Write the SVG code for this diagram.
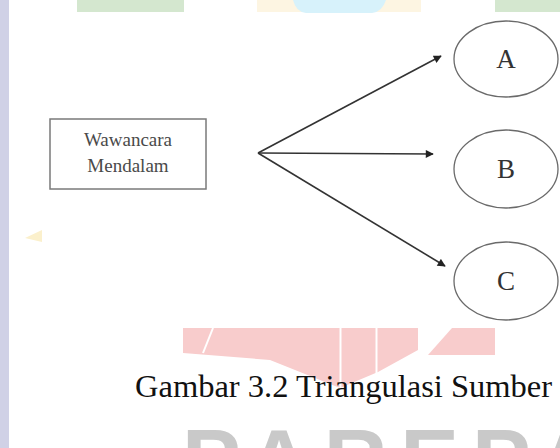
<svg xmlns="http://www.w3.org/2000/svg" width="560" height="448" viewBox="0 0 560 448">
  <defs>
    <marker id="arrow" viewBox="0 0 10 10" refX="9" refY="5" markerWidth="10" markerHeight="8" markerUnits="userSpaceOnUse" orient="auto">
      <path d="M0,0 L10,5 L0,10 Z" fill="#222"/>
    </marker>
  </defs>
  <style>
    .node-box { fill: #ffffff; stroke: #7a7a7a; stroke-width: 1.5; }
    .node-ell { fill: none; stroke: #6a6a6a; stroke-width: 1.3; }
    .box-text { font-family: "Liberation Serif", "Times New Roman", serif; font-size: 19px; fill: #4a4a4a; text-anchor: middle; }
    .ell-text { font-family: "Liberation Serif", "Times New Roman", serif; font-size: 27px; fill: #333; text-anchor: middle; }
    .conn { stroke: #333; stroke-width: 1.6; fill: none; marker-end: url(#arrow); }
    .caption { font-family: "Liberation Serif", "Times New Roman", serif; font-size: 32.5px; fill: #111; }
    .wm-text { font-family: "Liberation Sans", Arial, sans-serif; font-weight: bold; font-size: 88px; fill: #c9c9c9; letter-spacing: 13px; }
  </style>
  <rect x="0" y="0" width="560" height="448" fill="#ffffff"/>
  <g id="watermark">
    <rect x="0" y="0" width="9" height="448" fill="#d0d1e6"/>
    <rect x="77" y="0" width="107" height="12" fill="#d4e7cf"/>
    <rect x="257" y="0" width="164" height="12" fill="#fdf5e2"/>
    <path d="M293,0 L386,0 Q382,12 372,13 L306,13 Q296,12 293,0 Z" fill="#d7f2fb"/>
    <rect x="495" y="0" width="65" height="12" fill="#d4e7cf"/>
    <path d="M25,238 L42,230 L42,242 Z" fill="#fbf0cc"/>
    <polygon points="183,328 418,328 418,350 378,372 340,388 270,360 183,353" fill="#f8cccc"/>
    <line x1="340.5" y1="328" x2="340.5" y2="392" stroke="#ffffff" stroke-width="2"/>
    <line x1="376.5" y1="328" x2="376.5" y2="392" stroke="#ffffff" stroke-width="2"/>
    <line x1="213" y1="328" x2="203" y2="353" stroke="#ffffff" stroke-width="2"/>
    <polygon points="428,355 452,328 495,328 495,355" fill="#f8cccc"/>
    <text class="wm-text" x="182" y="490">PAREPARE</text>
  </g>
  <g id="connectors">
    <line class="conn" x1="258" y1="153" x2="441" y2="56"/>
    <line class="conn" x1="258" y1="153" x2="433" y2="154"/>
    <line class="conn" x1="258" y1="153" x2="445" y2="266"/>
  </g>
  <g id="node-wawancara">
    <rect class="node-box" x="50" y="119" width="156" height="70"/>
    <text class="box-text" x="128" y="146">Wawancara</text>
    <text class="box-text" x="128" y="172">Mendalam</text>
  </g>
  <g id="node-a">
    <ellipse class="node-ell" cx="506" cy="59" rx="52" ry="38"/>
    <text class="ell-text" x="506" y="68">A</text>
  </g>
  <g id="node-b">
    <ellipse class="node-ell" cx="506" cy="169" rx="52" ry="39"/>
    <text class="ell-text" x="506" y="178">B</text>
  </g>
  <g id="node-c">
    <ellipse class="node-ell" cx="506" cy="281" rx="52" ry="39"/>
    <text class="ell-text" x="506" y="290">C</text>
  </g>
  <g id="caption">
    <text class="caption" x="135" y="397">Gambar 3.2 Triangulasi Sumber</text>
  </g>
</svg>
